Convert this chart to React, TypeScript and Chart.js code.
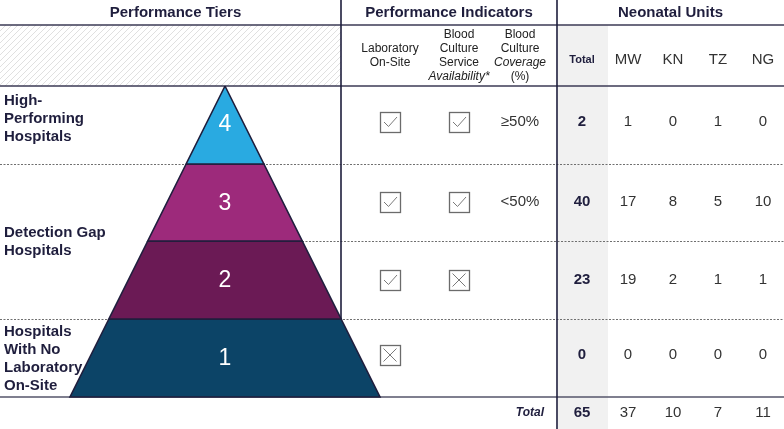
import React, { useEffect, useRef } from "react";
import { Chart, registerables } from "chart.js";

Chart.register(...registerables);

// ---------------- data ----------------
const sectionTitles = ["Performance Tiers", "Performance Indicators", "Neonatal Units"];
const tierNumbers = [4, 3, 2, 1];
const tierColors = ["#29aae1", "#9d2a7b", "#6b1a55", "#0c4467"];
const groupLabels = [
  ["High-", "Performing", "Hospitals"],
  ["Detection Gap", "Hospitals"],
  ["Hospitals", "With No", "Laboratory", "On-Site"],
];
const groupFirstRow = [0, 1, 3];
const groupLastRow = [0, 2, 3];
const labOnSite: (boolean | null)[] = [true, true, true, false];
const bcService: (boolean | null)[] = [true, true, false, null];
const bcCoverage = ["≥50%", "<50%", "", ""];
const countries = ["MW", "KN", "TZ", "NG"];
const totals = [2, 40, 23, 0];
const mwUnits = [1, 17, 19, 0];
const knUnits = [0, 8, 2, 0];
const tzUnits = [1, 5, 1, 0];
const ngUnits = [0, 10, 1, 0];
const countryUnits = [mwUnits, knUnits, tzUnits, ngUnits];
const grandTotal = 65;
const countryTotals = [37, 10, 7, 11];
const totalLabel = "Total";

type Part = { t: string; i?: boolean };
const indicatorHeaders: Part[][] = [
  [{ t: "Laboratory" }, { t: "On-Site" }],
  [{ t: "Blood" }, { t: "Culture" }, { t: "Service" }, { t: "Availability*", i: true }],
  [{ t: "Blood" }, { t: "Culture" }, { t: "Coverage", i: true }, { t: "(%)" }],
];

// ---------------- layout (scale units) ----------------
const W = 784;
const H = 429;
const sectionX = [0, 341, 557, 784];
const header1Bottom = 25;
const header2Bottom = 86;
const rowBounds = [86, 164, 241, 319, 397];
const rowTextY = [122, 202, 280, 355];
const totalRowY = 413;
const pyrCx = 225;
const pyrApexY = 86;
const pyrBaseY = 397;
const pyrBaseHalf = 155;
const indicatorX = [390, 459, 520];
const totalColX = 582;
const totalColBand = [558, 608];
const countryX = [628, 673, 718, 763];
const FONT = '"Liberation Sans", Arial, Helvetica, sans-serif';
const NAVY = "#1f1e3d";
const TEXT = "#333333";

const halfWidth = (y: number) => (pyrBaseHalf * (y - pyrApexY)) / (pyrBaseY - pyrApexY);

const pyramidDatasets = tierNumbers.map((n, i) => {
  const yTop = i === 0 ? pyrApexY : rowBounds[i];
  const yBot = rowBounds[i + 1];
  const ht = halfWidth(yTop);
  const hb = halfWidth(yBot);
  return {
    label: "Tier " + n,
    data: [
      { x: pyrCx - ht, y: yTop },
      { x: pyrCx + ht, y: yTop },
      { x: pyrCx + hb, y: yBot },
      { x: pyrCx - hb, y: yBot },
      { x: pyrCx - ht, y: yTop },
    ],
    backgroundColor: tierColors[i],
    borderColor: NAVY,
    borderWidth: 1.6,
    fill: "shape" as const,
    tension: 0,
    pointRadius: 0,
    borderJoinStyle: "miter" as const,
    clip: false as const,
  };
});

const tablePlugin = {
  id: "tableDecor",
  beforeDatasetsDraw(chart: any) {
    const ctx: CanvasRenderingContext2D = chart.ctx;
    const X = (v: number) => chart.scales.x.getPixelForValue(v);
    const Y = (v: number) => chart.scales.y.getPixelForValue(v);
    ctx.save();
    // gray total column
    ctx.fillStyle = "#f1f1f1";
    ctx.fillRect(X(totalColBand[0]), Y(header1Bottom), X(totalColBand[1]) - X(totalColBand[0]), Y(H) - Y(header1Bottom));
    // hatch
    ctx.save();
    ctx.beginPath();
    ctx.rect(X(0), Y(header1Bottom), X(sectionX[1]) - X(0), Y(header2Bottom) - Y(header1Bottom));
    ctx.clip();
    ctx.strokeStyle = "#e0e0e0";
    ctx.lineWidth = 1;
    const hh = Y(header2Bottom) - Y(header1Bottom);
    for (let k = -hh; k < X(sectionX[1]) + 10; k += 6) {
      ctx.beginPath();
      ctx.moveTo(k, Y(header2Bottom));
      ctx.lineTo(k + hh, Y(header1Bottom));
      ctx.stroke();
    }
    ctx.restore();
    // dashed row lines
    ctx.strokeStyle = "#6f6f6f";
    ctx.lineWidth = 1;
    ctx.setLineDash([2, 1.5]);
    for (let r = 1; r < rowBounds.length - 1; r++) {
      const inGroup = groupFirstRow.some((f, g) => r > f && r <= groupLastRow[g]);
      const x0 = inGroup ? pyrCx : 0;
      ctx.beginPath();
      ctx.moveTo(X(x0), Y(rowBounds[r]) + 0.5);
      ctx.lineTo(X(W), Y(rowBounds[r]) + 0.5);
      ctx.stroke();
    }
    ctx.setLineDash([]);
    // solid lines
    ctx.strokeStyle = "#3b3a55";
    ctx.lineWidth = 1.5;
    [header1Bottom, header2Bottom].forEach((y) => {
      ctx.beginPath();
      ctx.moveTo(X(0), Y(y));
      ctx.lineTo(X(W), Y(y));
      ctx.stroke();
    });
    ctx.strokeStyle = "#55556a";
    ctx.beginPath();
    ctx.moveTo(X(0), Y(rowBounds[rowBounds.length - 1]));
    ctx.lineTo(X(W), Y(rowBounds[rowBounds.length - 1]));
    ctx.stroke();
    ctx.strokeStyle = NAVY;
    ctx.lineWidth = 1.6;
    ctx.beginPath();
    ctx.moveTo(X(sectionX[1]), Y(0));
    ctx.lineTo(X(sectionX[1]), Y(rowBounds[3]));
    ctx.moveTo(X(sectionX[2]), Y(0));
    ctx.lineTo(X(sectionX[2]), Y(H));
    ctx.stroke();
    ctx.restore();
  },
  afterDatasetsDraw(chart: any) {
    const ctx: CanvasRenderingContext2D = chart.ctx;
    const X = (v: number) => chart.scales.x.getPixelForValue(v);
    const Y = (v: number) => chart.scales.y.getPixelForValue(v);
    ctx.save();
    ctx.textBaseline = "middle";
    // tier numbers
    ctx.fillStyle = "#ffffff";
    ctx.textAlign = "center";
    ctx.font = `23px ${FONT}`;
    tierNumbers.forEach((n, i) => {
      const yTop = i === 0 ? pyrApexY : rowBounds[i];
      const yMid = i === 0 ? 125 : (yTop + rowBounds[i + 1]) / 2 + 1;
      ctx.fillText(String(n), X(pyrCx), Y(yMid));
    });
    // section titles
    ctx.fillStyle = NAVY;
    ctx.font = `bold 15px ${FONT}`;
    sectionTitles.forEach((t, i) => {
      ctx.fillText(t, X((sectionX[i] + sectionX[i + 1]) / 2 + (i === 0 ? 5 : 0)), Y(13));
    });
    // indicator sub headers
    ctx.fillStyle = "#222";
    indicatorHeaders.forEach((lines, c) => {
      const lh = 13.8;
      const y0 = (header1Bottom + header2Bottom) / 2 - ((lines.length - 1) * lh) / 2;
      lines.forEach((p, k) => {
        ctx.font = `${p.i ? "italic " : ""}12px ${FONT}`;
        ctx.fillText(p.t, X(indicatorX[c]), Y(y0 + k * lh));
      });
    });
    const subY = (header1Bottom + header2Bottom) / 2 + 4;
    ctx.fillStyle = NAVY;
    ctx.font = `bold 11px ${FONT}`;
    ctx.fillText(totalLabel, X(totalColX), Y(subY));
    ctx.fillStyle = TEXT;
    ctx.font = `15px ${FONT}`;
    countries.forEach((c, i) => ctx.fillText(c, X(countryX[i]), Y(subY)));
    // group labels
    ctx.fillStyle = NAVY;
    ctx.font = `bold 15px ${FONT}`;
    ctx.textAlign = "left";
    groupLabels.forEach((lines, g) => {
      const c = (rowTextY[groupFirstRow[g]] + rowTextY[groupLastRow[g]]) / 2 + (g === 0 ? -3 : g === 1 ? 1 : 4);
      const lh = 18;
      const y0 = c - ((lines.length - 1) * lh) / 2;
      lines.forEach((l, k) => ctx.fillText(l, X(4), Y(y0 + k * lh)));
    });
    // checkboxes
    const box = (cx: number, cy: number, ok: boolean) => {
      const s = 20;
      ctx.strokeStyle = "#6b6b6b";
      ctx.lineWidth = 1.3;
      ctx.strokeRect(Math.round(cx - s / 2) + 0.5, Math.round(cy - s / 2) + 0.5, s, s);
      ctx.strokeStyle = "#7a7a7a";
      ctx.lineWidth = 1;
      ctx.beginPath();
      if (ok) {
        ctx.moveTo(cx - 6, cy);
        ctx.lineTo(cx - 1.5, cy + 4.5);
        ctx.lineTo(cx + 7, cy - 5);
      } else {
        ctx.moveTo(cx - 6.5, cy - 6.5);
        ctx.lineTo(cx + 6.5, cy + 6.5);
        ctx.moveTo(cx + 6.5, cy - 6.5);
        ctx.lineTo(cx - 6.5, cy + 6.5);
      }
      ctx.stroke();
    };
    rowTextY.forEach((ry, r) => {
      const y = Y(ry);
      if (labOnSite[r] !== null) box(X(indicatorX[0]), y, !!labOnSite[r]);
      if (bcService[r] !== null) box(X(indicatorX[1]), y, !!bcService[r]);
    });
    // coverage
    ctx.textAlign = "center";
    ctx.fillStyle = TEXT;
    ctx.font = `15px ${FONT}`;
    bcCoverage.forEach((t, r) => {
      if (t) ctx.fillText(t, X(indicatorX[2]), Y(rowTextY[r]));
    });
    // counts
    totals.forEach((v, r) => {
      ctx.fillStyle = NAVY;
      ctx.font = `bold 15px ${FONT}`;
      ctx.fillText(String(v), X(totalColX), Y(rowTextY[r]));
      ctx.fillStyle = TEXT;
      ctx.font = `15px ${FONT}`;
      countryUnits.forEach((arr, c) => ctx.fillText(String(arr[r]), X(countryX[c]), Y(rowTextY[r])));
    });
    // totals row
    ctx.fillStyle = NAVY;
    ctx.font = `italic bold 12px ${FONT}`;
    ctx.textAlign = "right";
    ctx.fillText(totalLabel, X(544), Y(totalRowY));
    ctx.textAlign = "center";
    ctx.font = `bold 15px ${FONT}`;
    ctx.fillText(String(grandTotal), X(totalColX), Y(totalRowY));
    ctx.fillStyle = TEXT;
    ctx.font = `15px ${FONT}`;
    countryTotals.forEach((v, c) => ctx.fillText(String(v), X(countryX[c]), Y(totalRowY)));
    ctx.restore();
  },
};

export default function App() {
  const ref = useRef<HTMLCanvasElement | null>(null);
  useEffect(() => {
    document.body.style.margin = "0";
    const chart = new Chart(ref.current as HTMLCanvasElement, {
      type: "line",
      data: { datasets: pyramidDatasets as any },
      options: {
        animation: false,
        responsive: false,
        events: [],
        layout: { padding: 0 },
        plugins: { legend: { display: false }, tooltip: { enabled: false } },
        scales: {
          x: { type: "linear", min: 0, max: W, display: false },
          y: { type: "linear", min: 0, max: H, reverse: true, display: false },
        },
      },
      plugins: [tablePlugin],
    });
    return () => chart.destroy();
  }, []);
  return <canvas ref={ref} width={W} height={H} style={{ display: "block" }} />;
}
